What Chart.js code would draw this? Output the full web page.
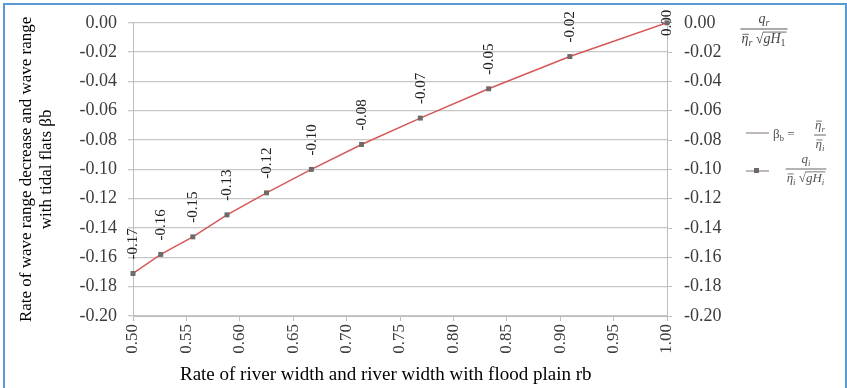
<!DOCTYPE html>
<html><head><meta charset="utf-8">
<script src="https://cdn.jsdelivr.net/npm/chart.js@4/dist/chart.umd.min.js"></script>
<style>
html,body{margin:0;padding:0;background:#fff;}
#wrap{position:relative;width:847px;height:388px;overflow:hidden;background:#fff;}
#frame{position:absolute;left:3px;top:3px;width:840px;height:430px;border:2px solid #5B9BD5;pointer-events:none;}
canvas{position:absolute;left:0;top:0;}
</style></head><body>
<div id="wrap"><canvas id="c" width="847" height="388"></canvas><div id="frame"></div></div>
<script>
// Rate of river width and river width with flood plain r_b
const rb = [0.500, 0.526, 0.556, 0.588, 0.625, 0.667, 0.714, 0.769, 0.833, 0.909, 1.000];
// beta_b = eta_r / eta_i  (line)
const betaB = [-0.171, -0.158, -0.146, -0.131, -0.116, -0.100, -0.083, -0.065, -0.045, -0.023, 0.000];
// q_i / (eta_i sqrt(g H_i))  (markers)
const qRatio = [-0.171, -0.158, -0.146, -0.131, -0.116, -0.100, -0.083, -0.065, -0.045, -0.023, 0.000];
// data labels shown on the points
const pointLabels = ["-0.17", "-0.16", "-0.15", "-0.13", "-0.12", "-0.10", "-0.08", "-0.07", "-0.05", "-0.02", "0.00"];
// axis ranges / tick steps
const xRange = [0.50, 1.00], xStep = 0.05;
const yRange = [-0.20, 0.00], yStep = 0.02;
const seriesNames = ["βb = η̄r/η̄i", "qi/(η̄i √gHi)"];
const xTitle = "Rate of river width and river width with flood plain rb\u00A0\u00A0\u00A0\u00A0\u00A0\u00A0";
const yTitle = ["Rate of wave range decrease and wave range", "with tidal flats βb"];

const SERIF = '"Liberation Serif", "Times New Roman", serif';

function segFont(s, size) {
  return (s.i ? 'italic ' : '') + (s.sub ? Math.round(size * 0.68) : size) + 'px ' + SERIF;
}
function segsWidth(ctx, segs, size) {
  let w = 0;
  for (const s of segs) {
    if (s.sqrt) { ctx.font = size + 'px ' + SERIF; w += ctx.measureText('√').width + segsWidth(ctx, s.sqrt, size) + 1; }
    else { ctx.font = segFont(s, size); w += ctx.measureText(s.t).width; }
  }
  return w;
}
function drawSegs(ctx, segs, x, y, size) {
  for (const s of segs) {
    if (s.sqrt) {
      ctx.font = size + 'px ' + SERIF;
      ctx.fillText('√', x, y);
      const sw = ctx.measureText('√').width;
      const iw = segsWidth(ctx, s.sqrt, size);
      ctx.beginPath();
      ctx.moveTo(x + sw - 0.5, y - size * 0.78);
      ctx.lineTo(x + sw + iw + 1, y - size * 0.78);
      ctx.lineWidth = 0.8; ctx.stroke();
      drawSegs(ctx, s.sqrt, x + sw, y, size);
      x += sw + iw + 1;
    } else {
      ctx.font = segFont(s, size);
      const yy = s.sub ? y + size * 0.22 : y;
      ctx.fillText(s.t, x, yy);
      const w = ctx.measureText(s.t).width;
      if (s.bar) {
        ctx.beginPath();
        ctx.moveTo(x + 1, yy - size * 0.62);
        ctx.lineTo(x + w + 0.5, yy - size * 0.62);
        ctx.lineWidth = 0.8; ctx.stroke();
      }
      x += w;
    }
  }
  return x;
}
function drawFrac(ctx, cx, barY, num, den, size, color) {
  ctx.save();
  ctx.fillStyle = color; ctx.strokeStyle = color;
  ctx.textAlign = 'left'; ctx.textBaseline = 'alphabetic';
  const nw = segsWidth(ctx, num, size), dw = segsWidth(ctx, den, size);
  const bw = Math.max(nw, dw) + 2;
  drawSegs(ctx, num, cx - nw / 2, barY - size * 0.45, size);
  drawSegs(ctx, den, cx - dw / 2, barY + size * 1.0, size);
  ctx.beginPath();
  ctx.moveTo(cx - bw / 2, barY); ctx.lineTo(cx + bw / 2, barY);
  ctx.lineWidth = 0.9; ctx.stroke();
  ctx.restore();
}

const sideTextPlugin = {
  id: 'sideText',
  afterDraw(chart) {
    const ctx = chart.ctx;
    // right axis quantity
    drawFrac(ctx, 764, 29,
      [{t: 'q', i: true}, {t: 'r', i: true, sub: true}],
      [{t: 'η', i: true, bar: true}, {t: 'r', i: true, sub: true}, {t: ' '}, {sqrt: [{t: 'gH', i: true}, {t: '1', sub: true}]}],
      14, '#444');
    // legend entry 1 (line)
    ctx.save();
    ctx.strokeStyle = '#a8a0a0'; ctx.lineWidth = 1.5;
    ctx.beginPath(); ctx.moveTo(746, 133); ctx.lineTo(769, 133); ctx.stroke();
    ctx.fillStyle = '#555'; ctx.strokeStyle = '#555';
    ctx.textAlign = 'left'; ctx.textBaseline = 'alphabetic';
    drawSegs(ctx, [{t: 'β'}, {t: 'b', sub: true}, {t: ' = '}], 773, 138, 13);
    ctx.restore();
    drawFrac(ctx, 820, 135,
      [{t: 'η', i: true, bar: true}, {t: 'r', i: true, sub: true}],
      [{t: 'η', i: true, bar: true}, {t: 'i', i: true, sub: true}],
      13, '#555');
    // legend entry 2 (markers)
    ctx.save();
    ctx.strokeStyle = '#a8a0a0'; ctx.lineWidth = 1.5;
    ctx.beginPath(); ctx.moveTo(746, 171); ctx.lineTo(769, 171); ctx.stroke();
    ctx.fillStyle = '#6f6a6a';
    ctx.fillRect(754, 168, 5, 5);
    ctx.restore();
    drawFrac(ctx, 806, 169,
      [{t: 'q', i: true}, {t: 'i', i: true, sub: true}],
      [{t: 'η', i: true, bar: true}, {t: 'i', i: true, sub: true}, {t: ' '}, {sqrt: [{t: 'gH', i: true}, {t: 'i', i: true, sub: true}]}],
      13, '#555');
  }
};

const pointLabelPlugin = {
  id: 'pointLabels',
  beforeDatasetsDraw(chart) {
    const ctx = chart.ctx;
    const xs = chart.scales.x, ys = chart.scales.y;
    ctx.save();
    ctx.font = '15px ' + SERIF;
    ctx.fillStyle = '#222';
    ctx.textBaseline = 'middle';
    pointLabels.forEach((lab, i) => {
      const px = xs.getPixelForValue(rb[i]);
      const py = ys.getPixelForValue(betaB[i]);
      const w = ctx.measureText(lab).width;
      ctx.save();
      ctx.translate(px + 0.5, py);
      ctx.rotate(-Math.PI / 2);
      if (py - 14 - w < 0) { ctx.textAlign = 'center'; ctx.fillText(lab, 0, 0); }
      else { ctx.textAlign = 'left'; ctx.fillText(lab, 14, 0); }
      ctx.restore();
    });
    ctx.restore();
  }
};

const gridColor = '#c6c6c6';
const axisColor = '#bdbdbd';
const tickColor = '#3c3c3c';

new Chart(document.getElementById('c'), {
  type: 'line',
  data: {
    datasets: [
      {
        label: seriesNames[0],
        data: rb.map((x, i) => ({x: x, y: betaB[i]})),
        borderColor: 'rgb(214,88,88)',
        borderWidth: 1.5,
        pointRadius: 0,
        fill: false,
        yAxisID: 'y',
        order: 2
      },
      {
        label: seriesNames[1],
        data: rb.map((x, i) => ({x: x, y: qRatio[i]})),
        showLine: false,
        pointStyle: 'rect',
        pointRadius: 3.5,
        backgroundColor: '#6f6a6a',
        borderColor: '#6f6a6a',
        borderWidth: 0,
        clip: false,
        yAxisID: 'y2',
        order: 1
      }
    ]
  },
  options: {
    responsive: false,
    animation: false,
    devicePixelRatio: 1,
    layout: {padding: {left: 0, right: 0, top: 17, bottom: 0}},
    plugins: {legend: {display: false}, tooltip: {enabled: false}},
    scales: {
      x: {
        type: 'linear', position: 'bottom',
        min: xRange[0], max: xRange[1],
        afterFit: s => { s.height = 72; },
        ticks: {
          stepSize: xStep, minRotation: 90, maxRotation: 90, padding: 3,
          color: tickColor, font: {family: SERIF, size: 17},
          callback: v => Number(v).toFixed(2)
        },
        grid: {drawOnChartArea: false, tickLength: 5, color: axisColor},
        border: {display: true, color: axisColor},
        title: {display: true, text: xTitle, color: '#000', font: {family: SERIF, size: 19}, padding: {top: 0, bottom: 2}}
      },
      y: {
        position: 'left',
        min: yRange[0], max: yRange[1],
        afterFit: s => { s.width = 133; },
        ticks: {
          stepSize: yStep, padding: 11,
          color: tickColor, font: {family: SERIF, size: 18},
          callback: v => Number(v).toFixed(2)
        },
        grid: {color: gridColor, lineWidth: 1.3, tickLength: 5},
        border: {display: true, color: axisColor},
        title: {display: true, text: yTitle, color: '#000', font: {family: SERIF, size: 17, lineHeight: 1.2}, padding: {top: 16, bottom: 0}}
      },
      y2: {
        position: 'right',
        min: yRange[0], max: yRange[1],
        afterFit: s => { s.width = 180; },
        ticks: {
          stepSize: yStep, padding: 12,
          color: tickColor, font: {family: SERIF, size: 18},
          callback: v => Number(v).toFixed(2)
        },
        grid: {drawOnChartArea: false, tickLength: 5, color: axisColor},
        border: {display: true, color: axisColor}
      }
    }
  },
  plugins: [pointLabelPlugin, sideTextPlugin]
});
</script>
</body></html>
